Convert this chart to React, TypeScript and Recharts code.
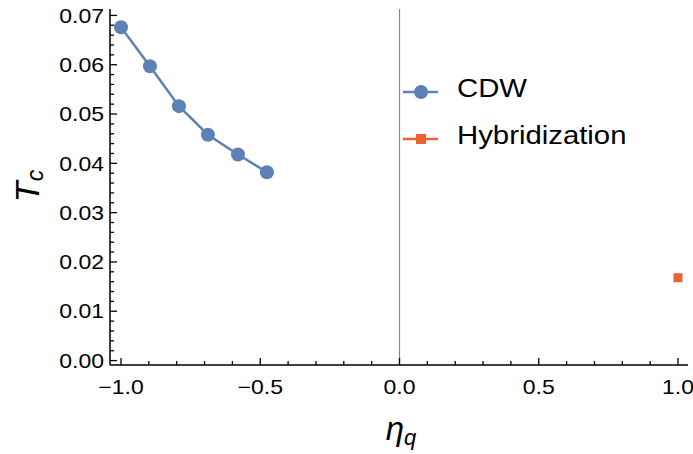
import React from 'react';
import { ComposedChart, Scatter, XAxis, YAxis, ReferenceLine, Legend } from 'recharts';

// CDW transition temperature vs eta_q
const cdwEta = [-1.0, -0.896, -0.792, -0.688, -0.58, -0.476];
const cdwTc = [0.0676, 0.0597, 0.0516, 0.0458, 0.0418, 0.0382];

// Hybridization point
const hybEta = [1.0];
const hybTc = [0.0168];

// major tick labels
const etaMajor = [-1.0, -0.5, 0.0, 0.5, 1.0];
const tcMajor = [0.0, 0.01, 0.02, 0.03, 0.04, 0.05, 0.06, 0.07];

const BLUE = '#5E81B5';
const ORANGE = '#EB6235';
const FONT = '"Liberation Sans", Arial, sans-serif';
const SX = 1.15; // labels look a bit wide in the reference

const cdwData = cdwEta.map((x, i) => ({ eta: x, tc: cdwTc[i] }));
const hybData = hybEta.map((x, i) => ({ eta: x, tc: hybTc[i] }));

// minor ticks every 0.1 (x) and 0.002 (y)
const etaTicks: number[] = [];
for (let k = -10; k <= 10; k++) etaTicks.push(Number((k / 10).toFixed(2)));
const tcTicks: number[] = [];
for (let k = 0; k <= 35; k++) tcTicks.push(Number((k * 0.002).toFixed(3)));

const isMajor = (v: number, majors: number[]) => majors.some(m => Math.abs(m - v) < 1e-6);
const fmtEta = (v: number) => v.toFixed(1).replace('-', '\u2212');

// tick drawn inward, label outside
const BottomTick = (props: any) => {
  const { x, y, payload } = props;
  const major = isMajor(payload.value, etaMajor);
  return (
    <g transform={`translate(${x},${y})`}>
      <line x1={0} y1={0} x2={0} y2={major ? -7 : -4} stroke="#000" strokeWidth={1.3} />
      {major && (
        <text transform={`translate(0,28.5) scale(${SX},1)`} textAnchor="middle" fontSize={20} fontFamily={FONT} fill="#000">
          {fmtEta(payload.value)}
        </text>
      )}
    </g>
  );
};

const TopTick = (props: any) => {
  const { x, y, payload } = props;
  const major = isMajor(payload.value, etaMajor);
  return <line x1={x} y1={y} x2={x} y2={y + (major ? 7 : 4)} stroke="#000" strokeWidth={1.3} />;
};

const LeftTick = (props: any) => {
  const { x, y, payload } = props;
  const major = isMajor(payload.value, tcMajor);
  return (
    <g transform={`translate(${x},${y})`}>
      <line x1={0} y1={0} x2={major ? 7 : 4} y2={0} stroke="#000" strokeWidth={1.3} />
      {major && (
        <text transform={`translate(-6,0) scale(${SX},1)`} textAnchor="end" dy="0.36em" fontSize={20} fontFamily={FONT} fill="#000">
          {payload.value.toFixed(2)}
        </text>
      )}
    </g>
  );
};

const RightTick = (props: any) => {
  const { x, y, payload } = props;
  const major = isMajor(payload.value, tcMajor);
  return <line x1={x} y1={y} x2={x - (major ? 7 : 4)} y2={y} stroke="#000" strokeWidth={1.3} />;
};

const XTitle = () => (
  <text x={401} y={440} textAnchor="middle" fontSize={33} fontStyle="italic" fontFamily={FONT} fill="#000">
    η<tspan fontSize={22} dy={5}>q</tspan>
  </text>
);

const YTitle = () => (
  <text x={39} y={186} transform="rotate(-90 39 186)" textAnchor="middle" fontSize={34} fontStyle="italic" fontFamily={FONT} fill="#000">
    T<tspan fontSize={23} dy={4}>c</tspan>
  </text>
);

const renderLegend = (props: any) => {
  const items = props.payload || [];
  return (
    <svg width={260} height={90}>
      {items.map((entry: any, i: number) => {
        const cy = 22 + i * 47;
        return (
          <g key={entry.value}>
            <line x1={8} y1={cy} x2={43} y2={cy} stroke={entry.color} strokeWidth={2.5} />
            {entry.type === 'square' ? (
              <rect x={21} y={cy - 5} width={10} height={10} fill={entry.color} />
            ) : (
              <circle cx={26} cy={cy} r={7} fill={entry.color} />
            )}
            <text transform={`translate(62,${cy + 5}) scale(1.15,1)`} fontSize={25.5} fontFamily={FONT} fill="#000">
              {entry.value}
            </text>
          </g>
        );
      })}
    </svg>
  );
};

export default function App() {
  return (
    <div style={{ position: 'absolute', left: 0, top: 0, background: '#fff' }}>
      <ComposedChart width={693} height={454} margin={{ top: 9, right: 5, bottom: 0, left: 0 }}>
        <XAxis
          xAxisId="b"
          dataKey="eta"
          type="number"
          domain={[-1.0395, 1.0359]}
          ticks={etaTicks}
          interval={0}
          tickSize={0}
          tickMargin={0}
          tickLine={false}
          tick={<BottomTick />}
          height={89}
          axisLine={{ stroke: '#000', strokeWidth: 1.5 }}
          label={<XTitle />}
        />
        <XAxis
          xAxisId="t"
          dataKey="eta"
          type="number"
          orientation="top"
          domain={[-1.0395, 1.0359]}
          ticks={etaTicks}
          interval={0}
          tickSize={0}
          tickMargin={0}
          tickLine={false}
          tick={<TopTick />}
          height={0}
          axisLine={{ stroke: '#000', strokeWidth: 1.5 }}
        />
        <YAxis
          yAxisId="l"
          dataKey="tc"
          type="number"
          domain={[-0.0009, 0.0713]}
          ticks={tcTicks}
          interval={0}
          tickSize={0}
          tickMargin={0}
          tickLine={false}
          tick={<LeftTick />}
          width={110}
          axisLine={{ stroke: '#000', strokeWidth: 1.5 }}
          label={<YTitle />}
        />
        <YAxis
          yAxisId="r"
          dataKey="tc"
          type="number"
          orientation="right"
          domain={[-0.0009, 0.0713]}
          ticks={tcTicks}
          interval={0}
          tickSize={0}
          tickMargin={0}
          tickLine={false}
          tick={<RightTick />}
          width={0}
          axisLine={{ stroke: '#000', strokeWidth: 1.5 }}
        />
        <ReferenceLine xAxisId="b" yAxisId="l" x={0} stroke="#8a8a8a" strokeWidth={1.2} />
        <Scatter
          name="CDW"
          xAxisId="b"
          yAxisId="l"
          data={cdwData}
          fill={BLUE}
          legendType="circle"
          line={{ stroke: BLUE, strokeWidth: 2.5 }}
          lineType="joint"
          shape={(p: any) => <circle cx={p.cx} cy={p.cy} r={7} fill={BLUE} />}
          isAnimationActive={false}
        />
        <Scatter
          name="Hybridization"
          xAxisId="b"
          yAxisId="l"
          data={hybData}
          fill={ORANGE}
          legendType="square"
          shape={(p: any) => <rect x={p.cx - 4.5} y={p.cy - 4.5} width={9} height={9} fill={ORANGE} />}
          isAnimationActive={false}
        />
        <Legend
          layout="vertical"
          align="center"
          verticalAlign="middle"
          content={renderLegend}
          wrapperStyle={{ position: 'absolute', left: 395, top: 70, width: 260, height: 90 }}
        />
      </ComposedChart>
    </div>
  );
}
